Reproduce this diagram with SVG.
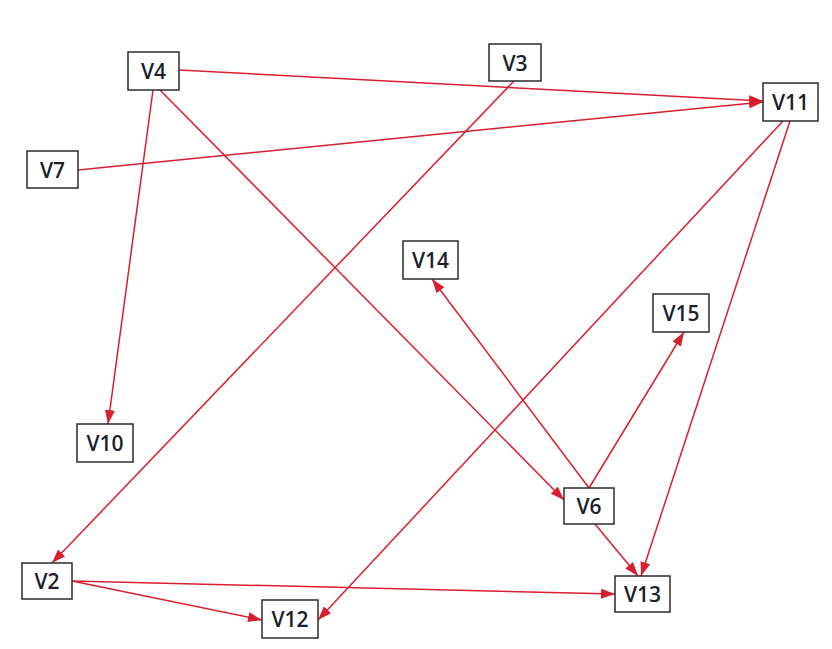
<svg xmlns="http://www.w3.org/2000/svg" width="832" height="649" viewBox="0 0 832 649">
<defs>
<marker id="ah" viewBox="0 0 14 10" refX="14" refY="5" markerWidth="14" markerHeight="10" markerUnits="userSpaceOnUse" orient="auto">
<path d="M0,0 L14,5 L0,10 Z" fill="#d81f2f"/>
</marker>
<style>
.n rect{fill:#fff;stroke:#2b2b2b;stroke-width:1.5}
.n text{font-family:"Open Sans","Noto Sans",sans-serif;font-size:21px;font-weight:600;fill:#1b1f2e;text-anchor:middle}
#edges line{stroke:#d81f2f;stroke-width:1.5;marker-end:url(#ah)}
</style>
</defs>
<rect width="832" height="649" fill="#fff"/>
<g id="edges">
<line x1="179" y1="70" x2="763" y2="101"/>
<line x1="78" y1="170" x2="763" y2="102"/>
<line x1="514" y1="81" x2="52" y2="563"/>
<line x1="153" y1="90" x2="108" y2="424"/>
<line x1="160" y1="90" x2="564" y2="500"/>
<line x1="783" y1="121" x2="318" y2="620"/>
<line x1="790" y1="121" x2="641" y2="576"/>
<line x1="589" y1="488" x2="432" y2="279"/>
<line x1="589" y1="488" x2="684" y2="332"/>
<line x1="595" y1="524" x2="638" y2="576"/>
<line x1="72" y1="581" x2="615" y2="594"/>
<line x1="72" y1="581" x2="262" y2="620"/>
</g>
<g id="V4" class="n"><rect x="128" y="52" width="51" height="38"/><text x="153.5" y="79">V4</text></g>
<g id="V3" class="n"><rect x="489" y="44" width="52" height="37"/><text x="515" y="70.5">V3</text></g>
<g id="V11" class="n"><rect x="763" y="83" width="55" height="38"/><text x="790.5" y="110">V11</text></g>
<g id="V7" class="n"><rect x="27" y="151" width="51" height="37"/><text x="52.5" y="177.5">V7</text></g>
<g id="V14" class="n"><rect x="403" y="241" width="55" height="38"/><text x="430.5" y="268">V14</text></g>
<g id="V15" class="n"><rect x="653" y="294" width="56" height="38"/><text x="681" y="321">V15</text></g>
<g id="V10" class="n"><rect x="77" y="424" width="56" height="38"/><text x="105" y="451">V10</text></g>
<g id="V6" class="n"><rect x="564" y="488" width="50" height="36"/><text x="589" y="514">V6</text></g>
<g id="V2" class="n"><rect x="22" y="563" width="50" height="36"/><text x="47" y="589">V2</text></g>
<g id="V13" class="n"><rect x="615" y="576" width="55" height="36"/><text x="642.5" y="602">V13</text></g>
<g id="V12" class="n"><rect x="262" y="600" width="56" height="38"/><text x="290" y="627">V12</text></g>
</svg>
